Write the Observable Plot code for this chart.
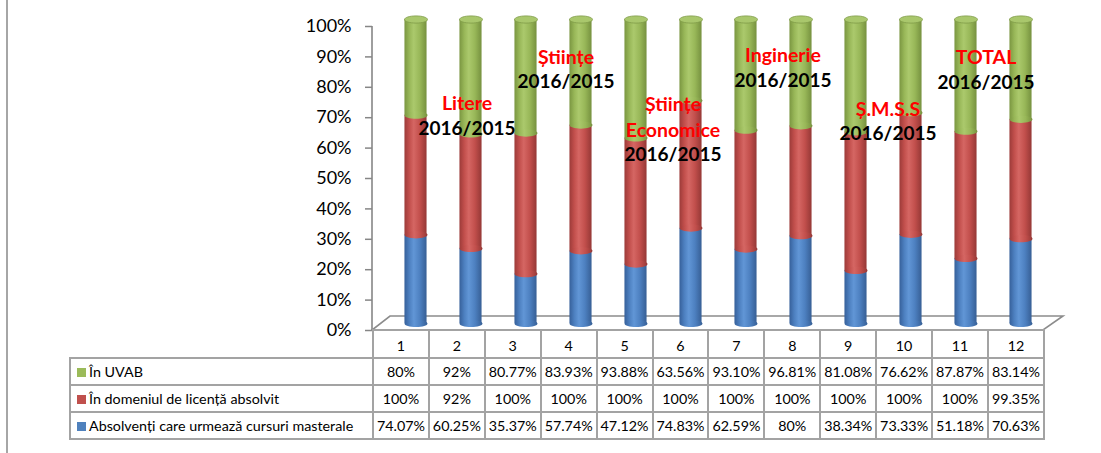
<!DOCTYPE html>
<html>
<head>
<meta charset="utf-8">
<script src="https://cdn.jsdelivr.net/npm/d3@7"></script>
<script src="https://cdn.jsdelivr.net/npm/@observablehq/plot@0.6"></script>
<style>
  html, body { margin: 0; padding: 0; background: #fff; }
  #wrap { position: relative; width: 1101px; height: 453px; overflow: hidden; font-family: Lato, "Noto Sans", sans-serif; }
  #frame-left { position: absolute; left: 6px; top: 0; width: 2px; height: 453px; background: #a6a6a6; }
  #chart { position: absolute; left: 0; top: 0; }
  #chart svg g[aria-label="y-axis"] line,
  #chart svg g[aria-label="y-axis tick"] path,
  #chart svg g[aria-label="y-axis tick"] line { stroke: #868686; stroke-width: 1.5; }
  #chart svg g[aria-label="y-axis"] path.domain { display: none; }
  table.dt { position: absolute; left: 69px; top: 329px; border-collapse: collapse; table-layout: fixed; width: 974px; font-family: Lato, "Noto Sans", sans-serif; font-size: 14.3px; color: #000; }
  table.dt td { border: 2px solid #a3a3a3; text-align: center; padding: 0; white-space: nowrap; overflow: hidden; }
  table.dt td.blank { border: none; }
  table.dt td.lab { text-align: left; padding-left: 6px; }
  table.dt tr.hdr td { height: 24px; padding-top: 2px; }
  table.dt tr.row td { height: 25px; }
  .sw { display: inline-block; width: 9px; height: 9px; margin-right: 3px; vertical-align: 0px; }
</style>
</head>
<body>
<div id="wrap">
  <div id="frame-left"></div>
  <div id="chart"></div>
</div>
<script>
// ---------- data ----------
const categories = [1, 2, 3, 4, 5, 6, 7, 8, 9, 10, 11, 12];
const seriesNames = [
  "Absolvenți care urmează cursuri masterale",
  "În domeniul de licență absolvit",
  "În UVAB"
];
const masterale = [74.07, 60.25, 35.37, 57.74, 47.12, 74.83, 62.59, 80, 38.34, 73.33, 51.18, 70.63];
const domeniu   = [100, 92, 100, 100, 100, 100, 100, 100, 100, 100, 100, 99.35];
const uvab      = [80, 92, 80.77, 83.93, 93.88, 63.56, 93.10, 96.81, 81.08, 76.62, 87.87, 83.14];
const yTicks = [0, 0.1, 0.2, 0.3, 0.4, 0.5, 0.6, 0.7, 0.8, 0.9, 1];

// annotations: column, y (share of bar), text
const annoTitles = ["Litere", "Științe", "Științe\nEconomice", "Inginerie", "Ș.M.S.S", "TOTAL"];
const annoTitleY = [0.753, 0.905, 0.707, 0.912, 0.734, 0.905];
const annoYears  = ["2016/2015", "2016/2015", "2016/2015", "2016/2015", "2016/2015", "2016/2015"];
const annoYearY  = [0.664, 0.819, 0.579, 0.822, 0.648, 0.816];
const annoCols   = [2, 4, 6, 8, 10, 12];

// ---------- styles ----------
const seriesColors = ["#4F81BD", "#C0504D", "#9BBB59"];
const gradIds = ["g-blue", "g-red", "g-green"];
const gradStops = [
  ["#36609a", "#4d80c0", "#6196d6", "#4d80c0", "#375f95"],
  ["#9c3b39", "#c24f4c", "#d56663", "#c24f4c", "#953836"],
  ["#7a9641", "#98b758", "#abc96c", "#98b758", "#76913f"]
];
const annoDx = [6, -5, -8, -8, -13, -25];

// ---------- tidy table for Plot ----------
const seriesValues = [masterale, domeniu, uvab];
const data = [];
seriesValues.forEach((vals, s) => vals.forEach((v, i) => data.push({cat: categories[i], series: s, value: v})));

const BAR_DX = 10, BAR_DY = -7;
const RX = 11.5, RY = 3.6;
const K = 0.5523;
const ellipse = {
  draw(ctx) {
    ctx.moveTo(-RX, 0);
    ctx.bezierCurveTo(-RX, -RY * K, -RX * K, -RY, 0, -RY);
    ctx.bezierCurveTo(RX * K, -RY, RX, -RY * K, RX, 0);
    ctx.bezierCurveTo(RX, RY * K, RX * K, RY, 0, RY);
    ctx.bezierCurveTo(-RX * K, RY, -RX, RY * K, -RX, 0);
    ctx.closePath();
  }
};

const floorMark = (index, scales, values, dimensions) => {
  const {width, marginLeft, marginRight} = dimensions;
  const y0 = scales.y(0), y1 = scales.y(1);
  const xl = marginLeft, xr = width - marginRight;
  const g = d3.create("svg:g");
  g.append("path")
    .attr("d", `M${xl},${y0}L${xr},${y0}L${xr + 20},${y0 - 14}L${xl + 18},${y0 - 14}Z`)
    .attr("fill", "none").attr("stroke", "#8c8c8c").attr("stroke-width", 1.6);
  g.append("line")
    .attr("x1", xl).attr("x2", xl).attr("y1", y1).attr("y2", y0)
    .attr("stroke", "#868686").attr("stroke-width", 1.6);
  return g.node();
};

const stackOpts = {x: "cat", y: "value", z: "series", offset: "normalize"};
const fillUrl = d => `url(#${gradIds[d.series]})`;

const marks = [
  floorMark,
  Plot.barY(data, Plot.stackY({...stackOpts, fill: fillUrl, insetLeft: 16.45, insetRight: 16.45, dx: BAR_DX, dy: BAR_DY})),
  Plot.dot(data, Plot.stackY1({...stackOpts, fill: fillUrl, stroke: "none", symbol: ellipse, r: 5, dx: BAR_DX, dy: BAR_DY})),
  Plot.dot(data, Plot.stackY2({...stackOpts,
    fill: d => d.series === 2 ? "#a9c76c" : "none",
    stroke: d => d.series === 2 ? "#7f9a48" : "none",
    strokeWidth: 0.8, symbol: ellipse, r: 5, dx: BAR_DX, dy: BAR_DY}))
];
annoTitles.forEach((t, i) => {
  marks.push(Plot.text([i], {x: j => annoCols[j], y: j => annoTitleY[j], text: j => annoTitles[j],
    fill: "#ff0000", fontWeight: "bold", fontSize: 19.5, lineHeight: 1.35, dx: annoDx[i]}));
  marks.push(Plot.text([i], {x: j => annoCols[j], y: j => annoYearY[j], text: j => annoYears[j],
    fill: "#000", fontWeight: "bold", fontSize: 19, dx: annoDx[i]}));
});

const chart = Plot.plot({
  width: 1101,
  height: 334,
  marginLeft: 372,
  marginRight: 58,
  marginTop: 26,
  marginBottom: 4,
  style: {fontFamily: "Lato, 'Noto Sans', sans-serif", fontSize: "18px", fontWeight: "normal", color: "#000", background: "transparent", overflow: "visible"},
  x: {domain: categories, padding: 0, axis: null},
  y: {domain: [0, 1], ticks: yTicks, tickFormat: d3.format(".0%"), tickSize: 7, tickPadding: 14, label: null},
  marks
});

// gradients for cylinder shading
const defs = d3.select(chart).insert("defs", ":first-child");
gradIds.forEach((id, s) => {
  const lg = defs.append("linearGradient").attr("id", id).attr("x1", "0").attr("x2", "1").attr("y1", "0").attr("y2", "0");
  const offs = [0, 0.22, 0.42, 0.7, 1];
  gradStops[s].forEach((c, k) => lg.append("stop").attr("offset", offs[k]).attr("stop-color", c));
});
document.getElementById("chart").appendChild(chart);

// ---------- data table ----------
const fmt = v => (Number.isInteger(v) ? v : v.toFixed(2)) + "%";
const table = document.createElement("table");
table.className = "dt";
const cg = document.createElement("colgroup");
const c0 = document.createElement("col"); c0.style.width = "303px"; cg.appendChild(c0);
categories.forEach(() => { const c = document.createElement("col"); c.style.width = "55.92px"; cg.appendChild(c); });
table.appendChild(cg);
const hdr = document.createElement("tr"); hdr.className = "hdr";
const blank = document.createElement("td"); blank.className = "blank"; hdr.appendChild(blank);
categories.forEach(c => { const td = document.createElement("td"); td.textContent = c; hdr.appendChild(td); });
table.appendChild(hdr);
[2, 1, 0].forEach(s => {
  const tr = document.createElement("tr"); tr.className = "row";
  const lab = document.createElement("td"); lab.className = "lab";
  const sw = document.createElement("span"); sw.className = "sw"; sw.style.background = seriesColors[s];
  lab.appendChild(sw); lab.appendChild(document.createTextNode(seriesNames[s]));
  tr.appendChild(lab);
  seriesValues[s].forEach(v => { const td = document.createElement("td"); td.textContent = fmt(v); tr.appendChild(td); });
  table.appendChild(tr);
});
document.getElementById("wrap").appendChild(table);
</script>
</body>
</html>
